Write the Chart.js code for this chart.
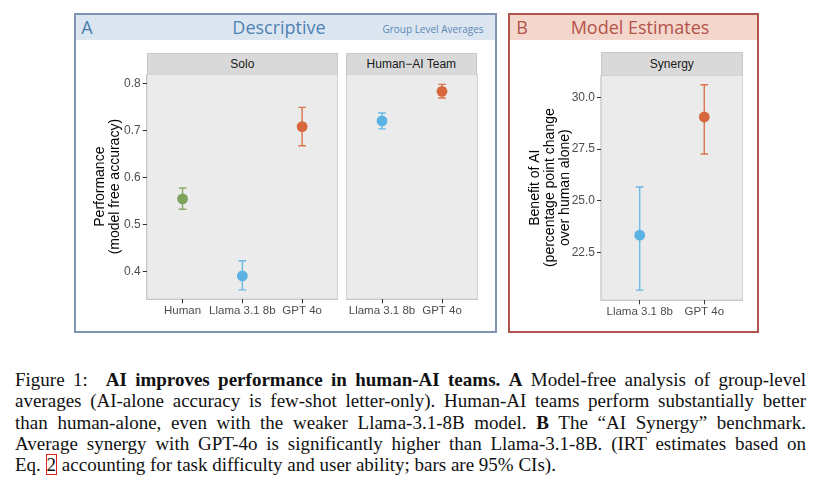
<!DOCTYPE html>
<html>
<head>
<meta charset="utf-8">
<script src="https://cdn.jsdelivr.net/npm/chart.js@4.4.1/dist/chart.umd.min.js"></script>
<style>
  html, body { margin:0; padding:0; background:#fff; }
  body { width:820px; height:485px; position:relative; overflow:hidden; font-family:"Liberation Sans", Arial, sans-serif; }
  .box { position:absolute; box-sizing:border-box; border:2px solid; }
  .hdr { position:absolute; left:0; top:0; right:0; }
  .htxt { position:absolute; font-family:"Open Sans", sans-serif; white-space:nowrap; transform:translate(-50%,-50%); line-height:1; }
  .strip { position:absolute; box-sizing:border-box; background:#D9D9D9; border:1px solid #C8C8C8; border-bottom:none;
           font-size:12px; color:#1A1A1A; text-align:center; }
  canvas { position:absolute; }
  #caption { position:absolute; left:15px; top:369px; width:791px; font-family:"Liberation Serif", "Times New Roman", serif;
             font-size:19px; line-height:21.3px; color:#111; }
  #caption .j { text-align:justify; text-align-last:justify; white-space:nowrap; }
  #caption .l { text-align:left; white-space:nowrap; }
  .ref { outline:1.5px solid #E0201A; outline-offset:-1px; padding:0 1px; }
</style>
</head>
<body>

<!-- Panel A frame -->
<div class="box" style="left:74px; top:13px; width:423px; height:320px; border-color:#7F95B1;">
  <div class="hdr" style="height:25px; background:#DCE6F1;"></div>
</div>
<div class="htxt" style="left:87px; top:27px; font-size:18px; color:#4A7DB0;">A</div>
<div class="htxt" style="left:279px; top:27px; font-size:18px; color:#4F81B3;">Descriptive</div>
<div class="htxt" style="left:433px; top:29px; font-size:10px; color:#5A86B4;">Group Level Averages</div>

<!-- Panel B frame -->
<div class="box" style="left:508px; top:13px; width:251px; height:320px; border-color:#B1544E;">
  <div class="hdr" style="height:24.5px; background:#F3D7CD;"></div>
</div>
<div class="htxt" style="left:522px; top:27px; font-size:18px; color:#B5524A;">B</div>
<div class="htxt" style="left:640px; top:27px; font-size:18px; color:#B5524A;">Model Estimates</div>

<!-- strips -->
<div class="strip" style="left:146.7px; top:52.7px; width:191.3px; height:21.6px; line-height:21px;">Solo</div>
<div class="strip" style="left:345.7px; top:52.7px; width:131.3px; height:21.6px; line-height:21px;">Human−AI Team</div>
<div class="strip" style="left:601px; top:52.3px; width:141.7px; height:22.7px; line-height:22px;">Synergy</div>

<canvas id="cSolo" width="247" height="253" style="left:91px; top:74px;"></canvas>
<canvas id="cTeam" width="132" height="253" style="left:345.5px; top:74px;"></canvas>
<canvas id="cSyn" width="219" height="253" style="left:524px; top:75px;"></canvas>

<div id="caption">
  <div class="j">Figure 1:&ensp; <b>AI improves performance in human-AI teams.</b> <b>A</b> Model-free analysis of group-level</div>
  <div class="j">averages (AI-alone accuracy is few-shot letter-only). Human-AI teams perform substantially better</div>
  <div class="j">than human-alone, even with the weaker Llama-3.1-8B model. <b>B</b> The “AI Synergy” benchmark.</div>
  <div class="j">Average synergy with GPT-4o is significantly higher than Llama-3.1-8B. (IRT estimates based on</div>
  <div class="l">Eq. <span class="ref">2</span> accounting for task difficulty and user ability; bars are 95% CIs).</div>
</div>

<script>
// ---------------- DATA ----------------
const soloCategories = ['Human', 'Llama 3.1 8b', 'GPT 4o'];
const soloMean = [0.555, 0.391, 0.709];
const soloLow  = [0.533, 0.361, 0.668];
const soloHigh = [0.578, 0.423, 0.750];

const teamCategories = ['Llama 3.1 8b', 'GPT 4o'];
const teamMean = [0.721, 0.784];
const teamLow  = [0.704, 0.770];
const teamHigh = [0.738, 0.799];

const synergyCategories = ['Llama 3.1 8b', 'GPT 4o'];
const synergyMean = [23.34, 29.05];
const synergyLow  = [20.68, 27.26];
const synergyHigh = [25.67, 30.61];

const perfTicks = [0.4, 0.5, 0.6, 0.7, 0.8];
const synergyTicks = [22.5, 25.0, 27.5, 30.0];

const perfTitle = ['Performance', '(model free accuracy)'];
const synergyTitle = ['Benefit of AI', '(percentage point change', 'over human alone)'];

const modelColors = { 'Human': '#7EA35C', 'Llama 3.1 8b': '#5AB3E3', 'GPT 4o': '#D9673D' };

// ---------------- HELPERS ----------------
const panelBg = {
  id: 'panelBg',
  beforeDraw(chart) {
    const {ctx, chartArea: a} = chart;
    ctx.save();
    ctx.fillStyle = '#EBEBEB';
    ctx.fillRect(a.left, a.top, a.right - a.left, a.bottom - a.top);
    ctx.strokeStyle = '#C4C4C4';
    ctx.lineWidth = 1.2;
    ctx.strokeRect(a.left, a.top, a.right - a.left, a.bottom - a.top);
    ctx.restore();
  }
};

const errorBars = {
  id: 'errorBars',
  beforeDatasetsDraw(chart) {
    const {ctx, scales: {x, y}} = chart;
    const eb = chart.options.plugins.errorBars;
    ctx.save();
    ctx.lineWidth = 1.4;
    eb.low.forEach((lo, i) => {
      const px = x.getPixelForValue(i);
      const yl = y.getPixelForValue(lo);
      const yh = y.getPixelForValue(eb.high[i]);
      ctx.strokeStyle = eb.colors[i];
      ctx.globalAlpha = 0.9;
      ctx.beginPath();
      ctx.moveTo(px, yl); ctx.lineTo(px, yh);
      ctx.moveTo(px - 3.8, yl); ctx.lineTo(px + 3.8, yl);
      ctx.moveTo(px - 3.8, yh); ctx.lineTo(px + 3.8, yh);
      ctx.stroke();
    });
    ctx.restore();
  }
};

function zeroPad(s) {
  s.paddingTop = 0; s.paddingBottom = 0; s.paddingLeft = 0; s.paddingRight = 0;
}

function makeChart(id, cats, mean, low, high, yMin, yMax, yTicks, title, yWidth, titlePad) {
  const colors = cats.map(c => modelColors[c]);
  const showY = yWidth > 0;
  return new Chart(document.getElementById(id), {
    type: 'scatter',
    data: {
      datasets: [{
        data: mean.map((v, i) => ({x: i, y: v})),
        backgroundColor: colors,
        borderWidth: 0,
        pointRadius: 5.4,
        pointHoverRadius: 5.4,
        clip: false
      }]
    },
    options: {
      responsive: false,
      animation: false,
      events: [],
      layout: { padding: 0, autoPadding: false },
      plugins: {
        legend: { display: false },
        tooltip: { enabled: false },
        errorBars: { low: low, high: high, colors: colors }
      },
      scales: {
        x: {
          type: 'linear',
          min: -0.6,
          max: cats.length - 1 + 0.6,
          afterBuildTicks: s => { s.ticks = cats.map((c, i) => ({value: i})); },
          afterFit: s => { s.height = 27.7; zeroPad(s); },
          ticks: {
            callback: v => cats[Math.round(v)],
            color: '#4D4D4D',
            font: { family: 'Liberation Sans', size: 11.5 },
            padding: 1,
            maxRotation: 0,
            autoSkip: false
          },
          grid: { display: true, drawOnChartArea: false, drawTicks: true, tickLength: 4, color: '#333333', lineWidth: 1 },
          border: { display: false }
        },
        y: {
          type: 'linear',
          display: showY,
          min: yMin,
          max: yMax,
          afterBuildTicks: s => { s.ticks = yTicks.map(v => ({value: v})); },
          afterFit: s => { if (showY) s.width = yWidth; zeroPad(s); },
          ticks: {
            callback: v => Number(v).toFixed(1),
            color: '#4D4D4D',
            font: { family: 'Liberation Sans', size: 12 },
            padding: 2
          },
          grid: { display: true, drawOnChartArea: false, drawTicks: true, tickLength: 4, color: '#333333', lineWidth: 1 },
          border: { display: false },
          title: {
            display: showY && !!title,
            text: title || '',
            color: '#000000',
            font: { family: 'Liberation Sans', size: 14, lineHeight: 1.07 },
            padding: { top: titlePad || 0, bottom: 0 }
          }
        }
      }
    },
    plugins: [panelBg, errorBars]
  });
}

makeChart('cSolo', soloCategories, soloMean, soloLow, soloHigh, 0.341, 0.821, perfTicks, perfTitle, 55.7, 2);
makeChart('cTeam', teamCategories, teamMean, teamLow, teamHigh, 0.341, 0.821, perfTicks, null, 0, 0);
makeChart('cSyn', synergyCategories, synergyMean, synergyLow, synergyHigh, 20.19, 31.08, synergyTicks, synergyTitle, 77, 4);
</script>
</body>
</html>
